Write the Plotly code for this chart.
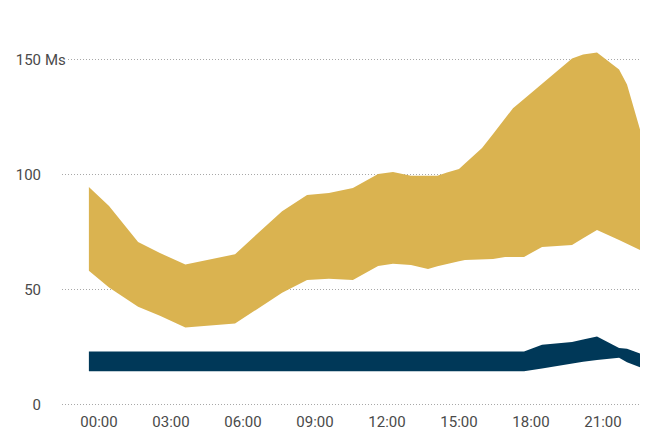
import plotly.graph_objects as go

# time of each observation, in hours after 00:00 (negative = before midnight)
hours = [-0.42, 0.42, 1.63, 2.54, 3.6, 5.67, 7.63, 8.67, 9.58, 10.58, 11.63, 12.25,
         13.0, 13.71, 14.1, 14.5, 15.0, 15.25, 15.96, 16.42, 16.92, 17.25, 17.71,
         18.46, 19.71, 20.17, 20.75, 21.67, 22.0, 22.6]

gold_low = [58.3, 51.0, 42.6, 38.7, 33.6, 35.3, 48.7, 54.3, 54.8, 54.3, 60.4, 61.3,
            60.8, 59.1, 60.2, 61.3, 62.4, 63.0, 63.2, 63.4, 64.3, 64.3, 64.3,
            68.6, 69.5, 72.4, 76.0, 71.7, 70.1, 67.0]
gold_high = [94.7, 86.5, 70.8, 66.0, 61.0, 65.5, 84.2, 91.2, 92.1, 94.3, 100.4, 101.3,
             99.6, 99.6, 99.6, 101.0, 102.6, 105.0, 111.7, 117.8, 124.5, 129.0, 133.0,
             139.5, 150.6, 152.4, 153.3, 145.9, 139.3, 117.7]

navy_low = [14.6, 14.6, 14.6, 14.6, 14.6, 14.6, 14.6, 14.6, 14.6, 14.6, 14.6, 14.6,
            14.6, 14.6, 14.6, 14.6, 14.6, 14.6, 14.6, 14.6, 14.6, 14.6, 14.6,
            15.7, 18.1, 18.7, 19.4, 20.4, 18.5, 16.0]
navy_high = [23.2, 23.2, 23.2, 23.2, 23.2, 23.2, 23.2, 23.2, 23.2, 23.2, 23.2, 23.2,
             23.2, 23.2, 23.2, 23.2, 23.2, 23.2, 23.2, 23.2, 23.2, 23.2, 23.2,
             26.1, 27.3, 28.4, 29.7, 24.7, 24.3, 22.1]

tick_hours = [0, 3, 6, 9, 12, 15, 18, 21]
tick_labels = ["00:00", "03:00", "06:00", "09:00", "12:00", "15:00", "18:00", "21:00"]
y_ticks = [0, 50, 100, 150]
y_tick_labels = ["0", "50", "100", "150"]
unit_label = "Ms"

GOLD = "#DAB350"
NAVY = "#003858"
FONT = "Roboto"
TEXT = "#4a4a4a"

fig = go.Figure()

def band(low, high, color):
    fig.add_trace(go.Scatter(x=hours, y=low, mode="lines", line=dict(width=0, color=color),
                             hoverinfo="skip", showlegend=False))
    fig.add_trace(go.Scatter(x=hours, y=high, mode="lines", line=dict(width=0, color=color),
                             fill="tonexty", fillcolor=color, hoverinfo="skip", showlegend=False))

band(gold_low, gold_high, GOLD)
band(navy_low, navy_high, NAVY)

fig.add_annotation(x=0, xref="paper", xshift=-19, xanchor="left", y=150, yref="y",
                   text=unit_label, showarrow=False, bgcolor="white",
                   font=dict(family=FONT, size=15, color=TEXT))

# the page body has an 8px margin, so the figure is shrunk and margins shifted by 8px
fig.update_layout(
    width=640, height=433,
    margin=dict(l=54, r=0, t=29, b=34),
    paper_bgcolor="white", plot_bgcolor="white",
    font=dict(family=FONT, size=15, color=TEXT),
    xaxis=dict(range=[-1.54, 22.875], tickvals=tick_hours, ticktext=tick_labels,
               showgrid=False, zeroline=False, showline=False, automargin=False,
               ticks="outside", ticklen=1, tickcolor="rgba(0,0,0,0)"),
    yaxis=dict(range=[-1, 160], tickvals=y_ticks, ticktext=y_tick_labels,
               showgrid=True, gridcolor="#a8a8a8", griddash="1px,2px", gridwidth=1,
               zeroline=False, showline=False, automargin=False,
               ticks="outside", ticklen=17, tickcolor="rgba(0,0,0,0)"),
)

fig.write_html("out.html")
